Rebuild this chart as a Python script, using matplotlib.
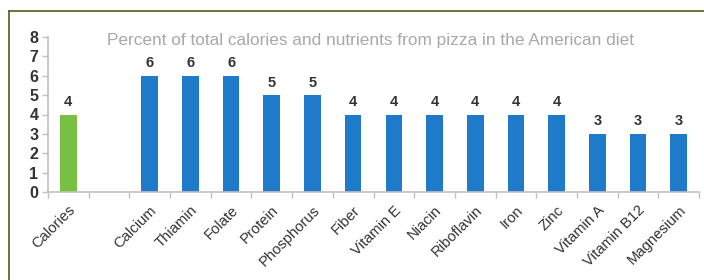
import matplotlib
matplotlib.use("Agg")
import matplotlib.pyplot as plt
from matplotlib.lines import Line2D
import numpy as np

categories = ["Calories", "", "Calcium", "Thiamin", "Folate", "Protein", "Phosphorus",
              "Fiber", "Vitamin E", "Niacin", "Riboflavin", "Iron", "Zinc",
              "Vitamin A", "Vitamin B12", "Magnesium"]
values = [4, None, 6, 6, 6, 5, 5, 4, 4, 4, 4, 4, 4, 3, 3, 3]
title = "Percent of total calories and nutrients from pizza in the American diet"

green = "#78c043"
blue = "#1f7bc9"
axis_col = "#c8bebb"
text_col = "#333333"

plt.rcParams['font.family'] = ['Liberation Sans', 'DejaVu Sans']

fig = plt.figure(figsize=(7.04, 2.8), dpi=100)
ax = fig.add_axes([48/704, 88/280, (699-48)/704, (243-88)/280])

x = np.arange(len(categories))
for i, v in enumerate(values):
    if v is None:
        continue
    col = green if i == 0 else blue
    b = ax.bar(x[i], v, width=0.41, color=col, zorder=2)
    ax.bar_label(b, labels=[str(v)], padding=4, fontsize=10.5, color=text_col,
                 fontweight='bold')

ax.set_xlim(-0.5, len(categories) - 0.5)
ax.set_ylim(0, 8)
ax.set_yticks(range(0, 9))
ax.tick_params(axis='y', labelsize=11.5, colors=axis_col, labelcolor=text_col, length=4, width=1, pad=3)
for t in ax.get_yticklabels():
    t.set_fontweight('bold')

ax.set_xticks(x)
ax.set_xticklabels(categories, rotation=45, ha='right', va='top', rotation_mode='anchor',
                   fontsize=10.6, color=text_col)
ax.tick_params(axis='x', which='major', length=0, pad=8)
ax.set_xticks(np.arange(-0.5, len(categories), 1), minor=True)
ax.tick_params(axis='x', which='minor', length=4, width=1, color=axis_col)

for s in ['top', 'right']:
    ax.spines[s].set_visible(False)
for s in ['left', 'bottom']:
    ax.spines[s].set_color(axis_col)
    ax.spines[s].set_linewidth(1.2)

ax.text(0.495, 0.975, title, transform=ax.transAxes, ha='center', va='center',
        fontsize=12.4, color="#a8a8a8")

# decorative border (top and left)
fig.add_artist(Line2D([8.5/704, 1.0], [1 - 10.5/280, 1 - 10.5/280], transform=fig.transFigure,
                      color="#5b6b2a", linewidth=1.3))
fig.add_artist(Line2D([8.5/704, 8.5/704], [0, 1 - 10.5/280], transform=fig.transFigure,
                      color="#5b6b2a", linewidth=1.3))

fig.savefig("out.png", dpi=100)
